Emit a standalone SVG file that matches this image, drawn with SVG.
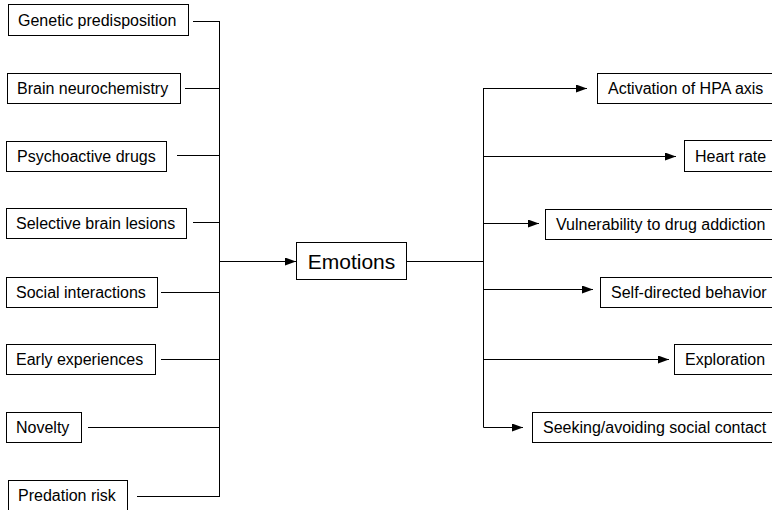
<svg xmlns="http://www.w3.org/2000/svg" width="772" height="510" viewBox="0 0 772 510">
<style>
.box{fill:#fff;stroke:#000;stroke-width:1}
.t{font-family:"Liberation Sans",Arial,Helvetica,sans-serif;font-size:16px;fill:#000}
.big{font-size:21px}
.c{fill:none;stroke:#000;stroke-width:1}
</style>
<defs>
<marker id="ah" markerUnits="userSpaceOnUse" markerWidth="12" markerHeight="9" refX="11" refY="4" orient="auto">
<path d="M0,0 L11,4 L0,8 z" fill="#000"/>
</marker>
</defs>
<rect width="772" height="510" fill="#fff"/>
<g id="connectors">
<path class="c" d="M193,21.5 H219.5 M185,88.5 H219.5 M177,155.5 H219.5 M193,222.5 H219.5 M161,292.5 H219.5 M161,359.5 H219.5 M88,427.5 H219.5 M137,496.5 H219.5 M219.5,21 V497"/>
<path class="c" d="M219.5,261.5 H296" marker-end="url(#ah)"/>
<path class="c" d="M406,261.5 H483.5 M483.5,88 V427.5"/>
<path class="c" d="M483.5,88.5 H587" marker-end="url(#ah)"/>
<path class="c" d="M483.5,156.5 H676" marker-end="url(#ah)"/>
<path class="c" d="M483.5,223.5 H539" marker-end="url(#ah)"/>
<path class="c" d="M483.5,289.5 H593" marker-end="url(#ah)"/>
<path class="c" d="M483.5,359.5 H669" marker-end="url(#ah)"/>
<path class="c" d="M483.5,427.5 H523" marker-end="url(#ah)"/>
</g>
<g id="genetic"><rect class="box" x="8.5" y="4.5" width="180" height="31"/><text class="t" x="18" y="26">Genetic predisposition</text></g>
<g id="neurochem"><rect class="box" x="7.5" y="73.5" width="173" height="30"/><text class="t" x="17" y="94">Brain neurochemistry</text></g>
<g id="drugs"><rect class="box" x="6.5" y="141.5" width="160" height="30"/><text class="t" x="17" y="162">Psychoactive drugs</text></g>
<g id="lesions"><rect class="box" x="6.5" y="208.5" width="180" height="30"/><text class="t" x="16" y="229">Selective brain lesions</text></g>
<g id="social"><rect class="box" x="6.5" y="277.5" width="151" height="30"/><text class="t" x="16" y="298">Social interactions</text></g>
<g id="early"><rect class="box" x="6.5" y="344.5" width="149" height="30"/><text class="t" x="16" y="365">Early experiences</text></g>
<g id="novelty"><rect class="box" x="6.5" y="412.5" width="75" height="30"/><text class="t" x="16" y="433">Novelty</text></g>
<g id="predation"><rect class="box" x="8.5" y="480.5" width="119" height="31"/><text class="t" x="18" y="501">Predation risk</text></g>
<g id="emotions"><rect class="box" x="296.5" y="242.5" width="110" height="37"/><text class="t big" x="351.5" y="268.5" text-anchor="middle">Emotions</text></g>
<g id="hpa"><rect class="box" x="597.5" y="73.5" width="176" height="30"/><text class="t" x="608" y="94">Activation of HPA axis</text></g>
<g id="heart"><rect class="box" x="684.5" y="140.5" width="89" height="31"/><text class="t" x="695" y="162">Heart rate</text></g>
<g id="vuln"><rect class="box" x="545.5" y="209.5" width="228" height="30"/><text class="t" x="556" y="230">Vulnerability to drug addiction</text></g>
<g id="selfdir"><rect class="box" x="600.5" y="277.5" width="173" height="30"/><text class="t" x="611" y="298">Self-directed behavior</text></g>
<g id="explore"><rect class="box" x="674.5" y="344.5" width="99" height="30"/><text class="t" x="685" y="365">Exploration</text></g>
<g id="seeking"><rect class="box" x="532.5" y="412.5" width="241" height="30"/><text class="t" x="543" y="433">Seeking/avoiding social contact</text></g>
</svg>
